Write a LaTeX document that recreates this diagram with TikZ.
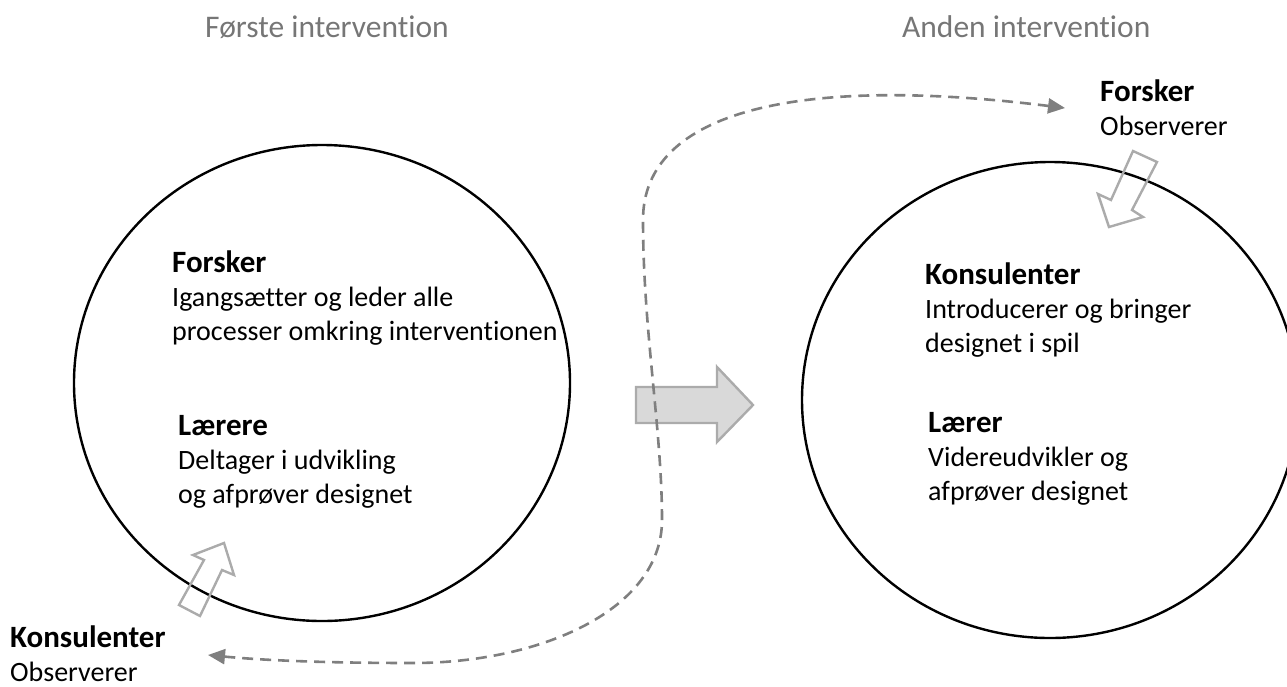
\documentclass[tikz,border=0pt]{standalone}
\usepackage{fontspec}
\setmainfont{Carlito}[Ligatures=NoCommon]
\usetikzlibrary{arrows.meta,shapes.geometric}
\definecolor{dashgray}{HTML}{7F7F7F}
\definecolor{headgray}{HTML}{767676}
\definecolor{arrowline}{HTML}{ABABAB}
\definecolor{arrowfill}{HTML}{D9D9D9}
\newcommand{\roletitle}[1]{{\fontsize{31}{34}\selectfont\bfseries #1}}
\tikzset{
  phase/.style={draw=black, line width=2.4pt, ellipse, inner sep=0pt,
    minimum width=496pt, minimum height=476pt},
  % multi-line nodes: the base anchor sits on the last line
  rolebox/.style={anchor=base west, align=left, inner sep=0pt,
    font=\fontsize{28}{34}\selectfont},
  heading/.style={anchor=base west, inner sep=0pt, text=headgray,
    font=\fontsize{31.5}{36}\selectfont},
  loopline/.style={draw=dashgray, line width=2.6pt, dash pattern=on 11pt off 7pt,
    {Triangle[length=17pt,width=15pt]}-{Triangle[length=17pt,width=15pt]}},
  hollowarrow/.style={draw=arrowline, line width=2.4pt, line join=miter, fill=none},
  bigarrow/.style={draw=arrowline, fill=arrowfill, line width=2.4pt, line join=miter}
}
\begin{document}
\begin{tikzpicture}[x=1pt,y=-1pt]
\useasboundingbox (0,0) rectangle (1287,686);

% headings
\node[heading] (h1) at (205,37) {Første intervention};
\node[heading] (h2) at (902,37) {Anden intervention};

% the two intervention circles
\node[phase] (c1) at (322,383) {};
\node[phase] (c2) at (1050,400) {};

% roles in the first intervention
\node[rolebox] (f1) at (172,340) {\roletitle{Forsker}\\Igangsætter og leder alle\\processer omkring interventionen};
\node[rolebox] (l1) at (178,503) {\roletitle{Lærere}\\Deltager i udvikling\\og afprøver designet};

% roles in the second intervention
\node[rolebox] (k2) at (925,352) {\roletitle{Konsulenter}\\Introducerer og bringer\\designet i spil};
\node[rolebox] (l2) at (928,500) {\roletitle{Lærer}\\Videreudvikler og\\afprøver designet};

% observers outside the circles
\node[rolebox] (fo) at (1100,135) {\roletitle{Forsker}\\Observerer};
\node[rolebox] (ko) at (10,681) {\roletitle{Konsulenter}\\Observerer};

% transition between the interventions
\draw[bigarrow] (636,387) -- (717,387) -- (717,367) -- (753,405) -- (717,442)
  -- (717,423) -- (636,423) -- cycle;

% observer arrows entering the circles
\draw[hollowarrow] (179,605) -- (204,560) -- (193,555) -- (224,543) -- (234,575)
  -- (222,570) -- (200,616) -- cycle;
\draw[hollowarrow] (1133,151) -- (1157,162) -- (1132,210) -- (1143,217) -- (1109,227)
  -- (1098,194) -- (1111,200) -- cycle;

% roles swap between the interventions
\coordinate (endB) at (1065,108);
\coordinate (endA) at (208,655);
\draw[loopline] (endB) .. controls (800,75) and (643,110) .. (643,220)
  .. controls (643,330) and (662,430) .. (662,520)
  .. controls (662,610) and (540,663) .. (413,663)
  .. controls (320,663) and (260,660) .. (endA);
\end{tikzpicture}
\end{document}
